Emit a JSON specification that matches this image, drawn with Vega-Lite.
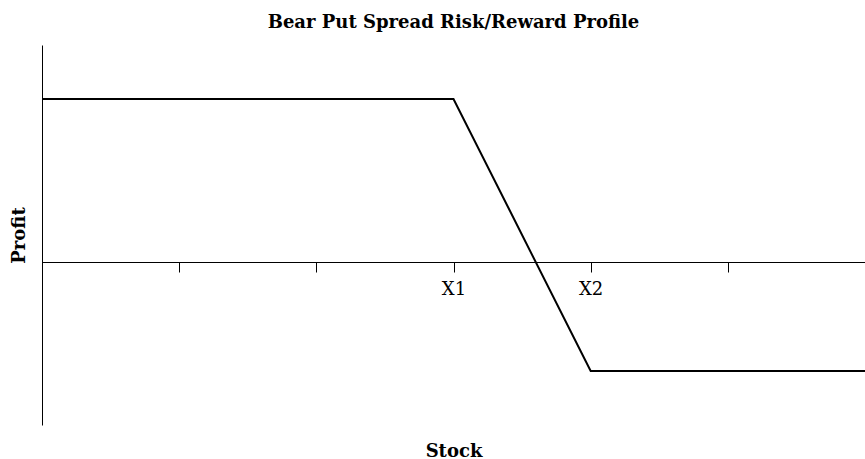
{
  "$schema": "https://vega.github.io/schema/vega-lite/v6.json",
  "width": 823,
  "height": 380,
  "autosize": {"type": "none"},
  "padding": {"left": 42, "top": 45, "right": 0, "bottom": 34},
  "background": "white",
  "config": {"view": {"stroke": null}, "font": "DejaVu Serif"},
  "title": {
    "text": "Bear Put Spread Risk/Reward Profile",
    "font": "DejaVu Serif",
    "fontSize": 18,
    "fontWeight": "bold",
    "color": "black",
    "anchor": "middle",
    "baseline": "alphabetic",
    "offset": -1
  },
  "data": {
    "values": [
      {"stock": 0, "profit": 163},
      {"stock": 3, "profit": 163},
      {"stock": 4, "profit": -109},
      {"stock": 6, "profit": -109}
    ]
  },
  "mark": {"type": "line", "color": "black", "strokeWidth": 2, "clip": true},
  "encoding": {
    "x": {
      "field": "stock",
      "type": "quantitative",
      "scale": {"domain": [0, 6], "nice": false, "zero": false},
      "axis": {
        "title": "Stock",
        "values": [1, 2, 3, 4, 5],
        "labelExpr": "datum.value == 3 ? 'X1' : datum.value == 4 ? 'X2' : ''",
        "offset": -163,
        "grid": false,
        "domainColor": "black",
        "domainWidth": 1,
        "tickColor": "black",
        "tickSize": 10,
        "tickWidth": 1,
        "labelFont": "DejaVu Serif",
        "labelFontSize": 18,
        "labelColor": "black",
        "labelPadding": 8,
        "titleFont": "DejaVu Serif",
        "titleFontSize": 18,
        "titleFontWeight": "bold",
        "titleColor": "black",
        "titleBaseline": "alphabetic",
        "titleY": 194
      }
    },
    "y": {
      "field": "profit",
      "type": "quantitative",
      "scale": {"domain": [-163, 217], "nice": false, "zero": false},
      "axis": {
        "title": "Profit",
        "ticks": false,
        "labels": false,
        "grid": false,
        "domainColor": "black",
        "domainWidth": 1,
        "titleFont": "DejaVu Serif",
        "titleFontSize": 18,
        "titleFontWeight": "bold",
        "titleColor": "black",
        "titlePadding": 14
      }
    }
  }
}
